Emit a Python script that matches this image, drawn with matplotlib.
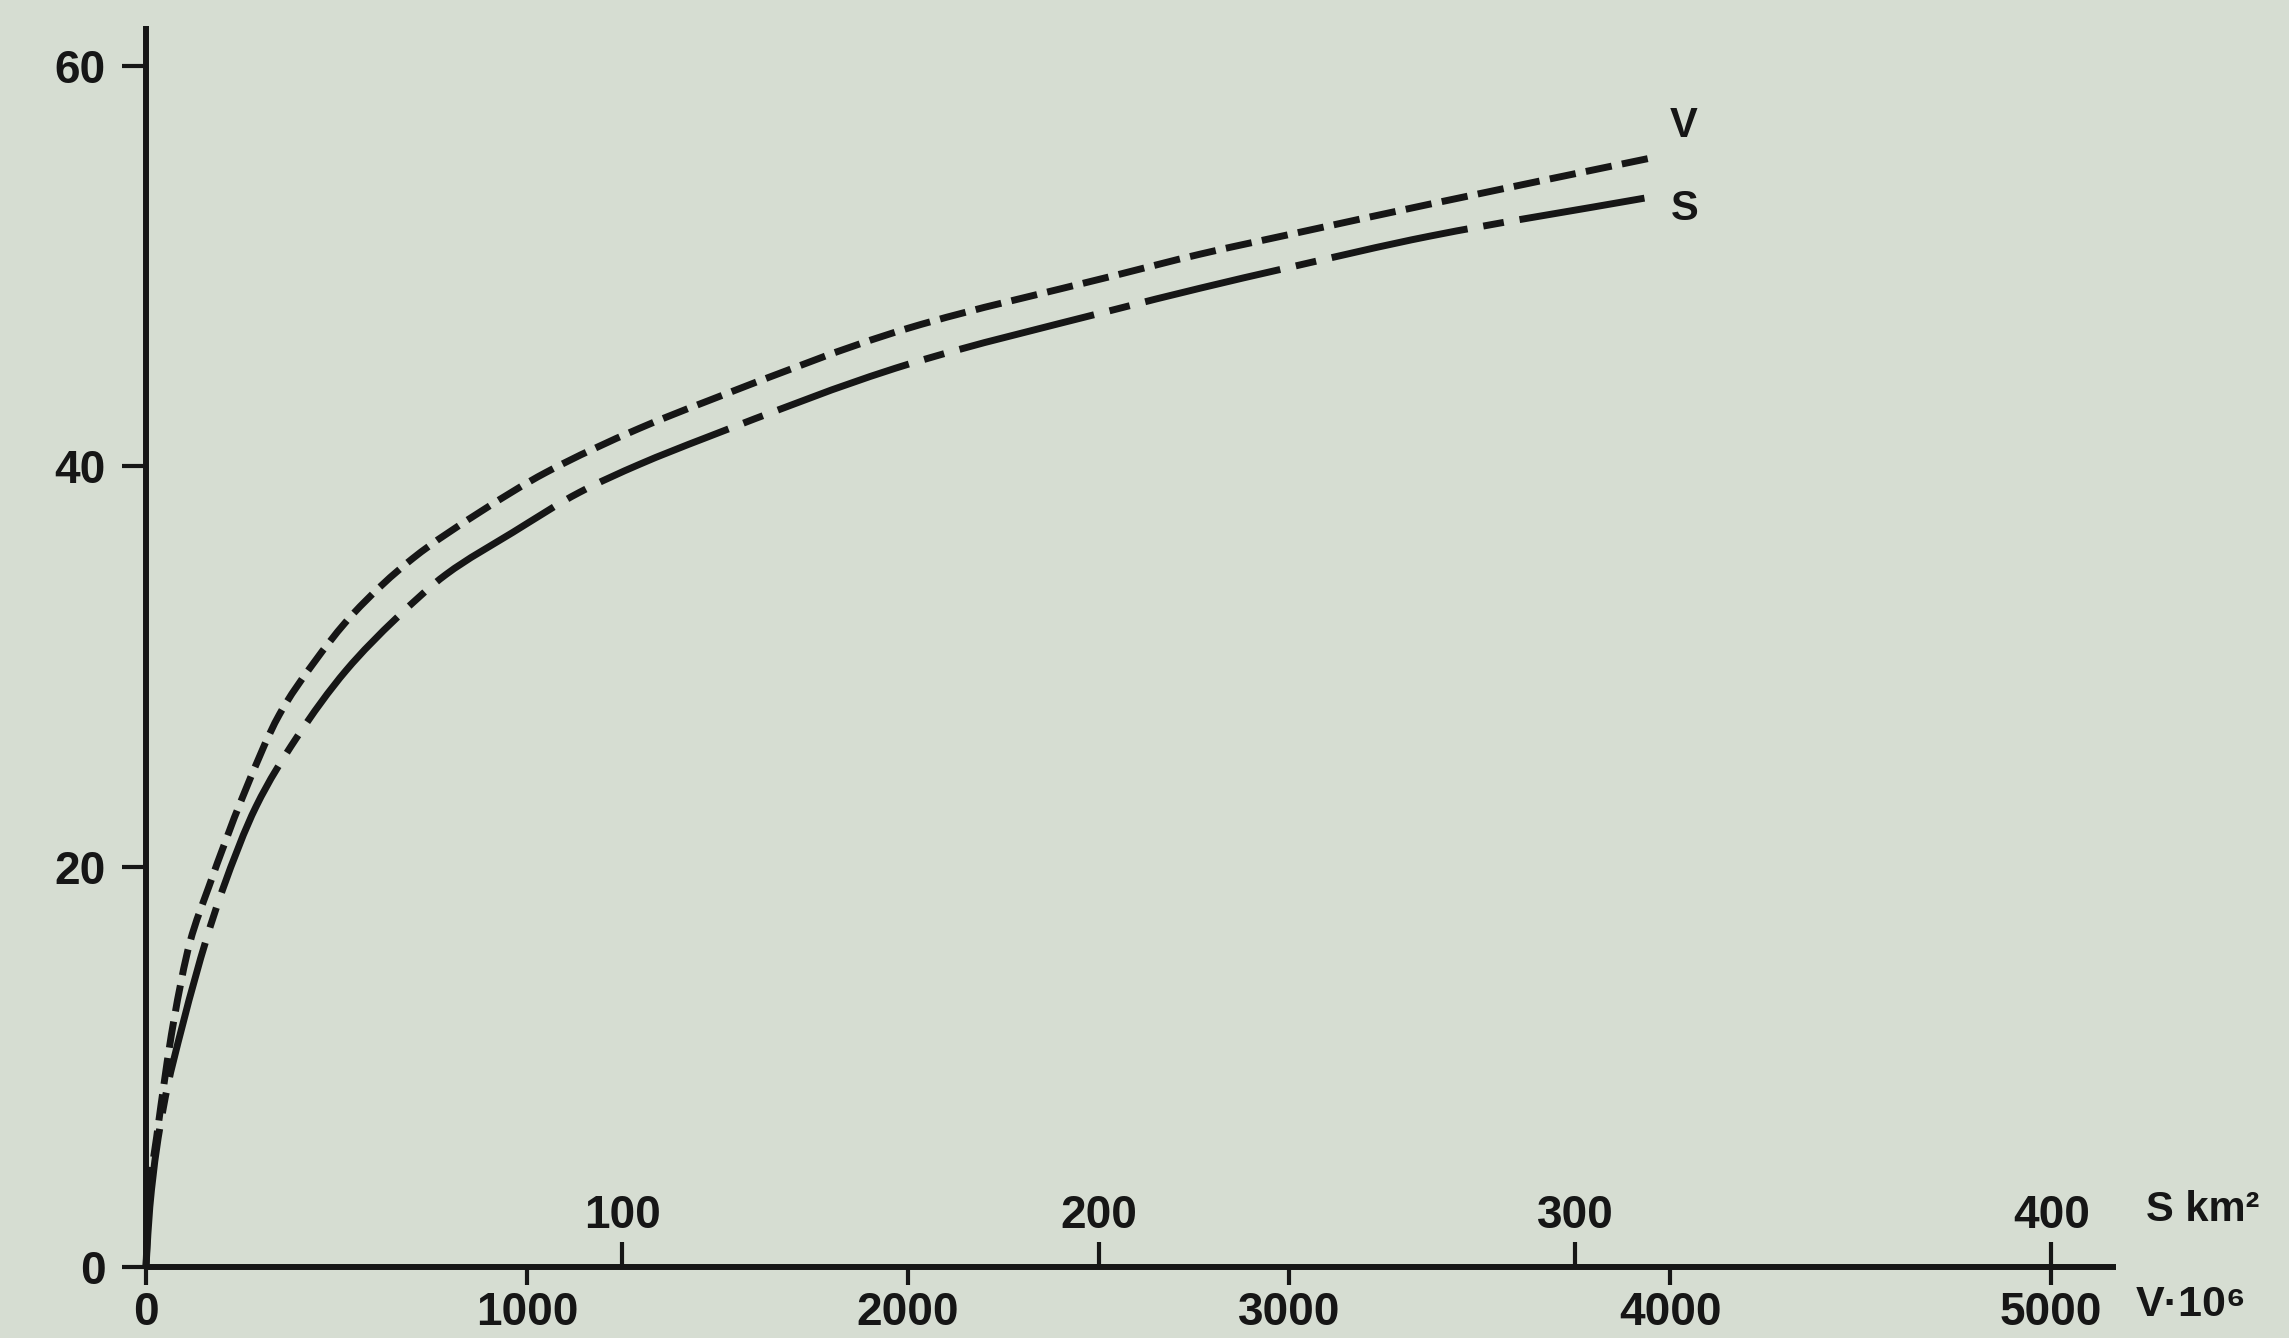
import matplotlib
matplotlib.use("Agg")
import matplotlib.pyplot as plt
from matplotlib.path import Path
from matplotlib.patches import PathPatch

# Regulated share (%) against reservoir volume V (10^6 m3) and area S (km2)
vol_v = [0, 8, 28, 72, 115, 165, 254, 350, 437, 542, 700, 875, 1050, 1295,
         1465, 2000, 2535, 2766, 3029, 3369, 3948]
vol_pct = [0, 3.5, 6.5, 12.2, 16.2, 19.0, 23.5, 27.6, 30.1, 32.6, 35.4, 37.7,
           39.7, 41.9, 43.2, 46.9, 49.5, 50.6, 51.7, 53.1, 55.4]

area_s = [0, 0.8, 3.6, 7.8, 12.7, 16.0, 23.1, 31.5, 42.0, 52.5, 63.0, 77.0,
          91.0, 103.6, 117.2, 160.0, 202.8, 221.3, 239.3, 269.5, 314.6]
area_pct = [0, 3.0, 7.9, 12.2, 16.4, 18.8, 23.0, 26.4, 29.8, 32.4, 34.6, 36.7,
            38.7, 40.1, 41.4, 45.1, 47.8, 48.9, 49.9, 51.5, 53.4]

v_ticks = [0, 1000, 2000, 3000, 4000, 5000]
s_ticks = [100, 200, 300, 400]
y_ticks = [0, 20, 40, 60]

V_PER_S = 12.5          # volume units per km2 along the shared baseline
V_MAX = 5170
Y_MAX = 62

BG = "#d6ddd2"
INK = "#161616"
FONT = ["Liberation Sans", "DejaVu Sans"]
plt.rcParams["font.family"] = FONT
plt.rcParams["font.weight"] = "bold"


def smooth_path(x, y):
    """Monotone cubic (Hermite -> Bezier) path through the given points."""
    n = len(x)
    h = [x[i + 1] - x[i] for i in range(n - 1)]
    d = [(y[i + 1] - y[i]) / h[i] for i in range(n - 1)]
    m = [d[0]]
    for i in range(1, n - 1):
        if d[i - 1] * d[i] <= 0:
            m.append(0.0)
        else:
            w1 = 2 * h[i] + h[i - 1]
            w2 = h[i] + 2 * h[i - 1]
            m.append((w1 + w2) / (w1 / d[i - 1] + w2 / d[i]))
    m.append(d[-1])
    verts = [(x[0], y[0])]
    codes = [Path.MOVETO]
    for i in range(n - 1):
        t = h[i] / 3.0
        verts += [(x[i] + t, y[i] + m[i] * t),
                  (x[i + 1] - t, y[i + 1] - m[i + 1] * t),
                  (x[i + 1], y[i + 1])]
        codes += [Path.CURVE4] * 3
    return Path(verts, codes)


fig = plt.figure(figsize=(22.89, 13.38), dpi=100, facecolor=BG)
ax = fig.add_axes([146 / 2289, 71 / 1338, 1970 / 2289, 1241 / 1338])
ax.set_facecolor("none")
ax.set_xlim(0, V_MAX)
ax.set_ylim(0, Y_MAX)

for side in ("top", "right"):
    ax.spines[side].set_visible(False)
for side in ("left", "bottom"):
    ax.spines[side].set_linewidth(4.3)
    ax.spines[side].set_color(INK)
    ax.spines[side].set_capstyle("butt")

ax.set_xticks(v_ticks)
ax.set_xticklabels([str(t) for t in v_ticks])
ax.set_yticks(y_ticks)
ax.set_yticklabels([str(t) for t in y_ticks])
ax.tick_params(axis="x", direction="out", length=13, width=3, color=INK,
               labelsize=33, labelcolor=INK, pad=4)
ax.tick_params(axis="y", direction="out", length=17, width=3, color=INK,
               labelsize=33, labelcolor=INK, pad=12)
for lab in ax.get_xticklabels() + ax.get_yticklabels():
    lab.set_fontweight("bold")

# Secondary scale for area, sharing the same baseline
ax2 = ax.twiny()
ax2.set_facecolor("none")
ax2.set_xlim(0, V_MAX / V_PER_S)
for side in ("top", "bottom", "left", "right"):
    ax2.spines[side].set_visible(False)
ax2.spines["top"].set_position(("axes", 0.0))
ax2.set_xticks(s_ticks)
ax2.set_xticklabels([str(t) for t in s_ticks])
ax2.tick_params(axis="x", direction="out", length=18, width=3, color=INK,
                labelsize=33, labelcolor=INK, pad=3)
for lab in ax2.get_xticklabels():
    lab.set_fontweight("bold")

# Curves
ax.add_patch(PathPatch(smooth_path(vol_v, vol_pct), transform=ax.transData,
                       fill=False, edgecolor=INK, lw=5,
                       linestyle=(0, (3.8, 1.5)), clip_on=False))
ax2.add_patch(PathPatch(smooth_path(area_s, area_pct), transform=ax2.transData,
                        fill=False, edgecolor=INK, lw=5,
                        linestyle=(0, (20, 2.3, 3, 2.3)), clip_on=False))

ax.annotate("V", xy=(vol_v[-1], vol_pct[-1]), xytext=(24, 23),
            textcoords="offset points", ha="center", va="center",
            fontsize=30, fontweight="bold", color=INK)
ax2.annotate("S", xy=(area_s[-1], area_pct[-1]), xytext=(29, -8),
             textcoords="offset points", ha="center", va="center",
             fontsize=30, fontweight="bold", color=INK)

# Axis names at the right end of the baseline
ax.text(1.015, 0.046, "S km²", transform=ax.transAxes, ha="left", va="center",
        fontsize=30, fontweight="bold", color=INK, family=FONT)
ax.text(1.010, -0.031, "V·10⁶", transform=ax.transAxes, ha="left", va="center",
        fontsize=31, fontweight="bold", color=INK, family=FONT)

fig.savefig("out.png", dpi=100, facecolor=BG)
